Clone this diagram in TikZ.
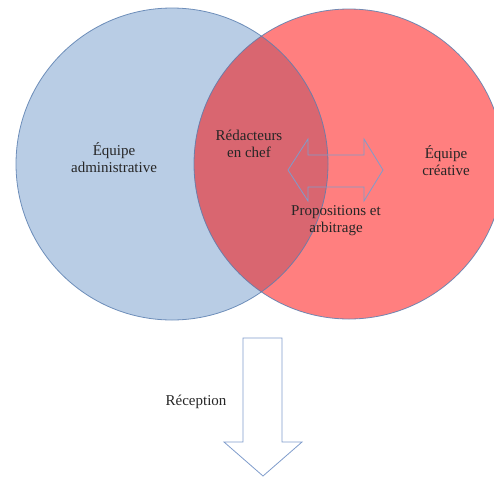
\documentclass[tikz,border=0pt]{standalone}
\usepackage{fontspec}
\setmainfont{Liberation Serif}
\usepackage{tikz}
\definecolor{equipeblue}{HTML}{B9CDE5}
\definecolor{equipered}{HTML}{FF7F7F}
\definecolor{overlapred}{HTML}{D96670}
\definecolor{rimblue}{HTML}{5B7FB0}
\definecolor{arrowblue}{HTML}{7F9CCB}
\def\drawrim{\draw[color=rimblue, draw opacity=0.85, line width=0.8pt]}
\def\drawblock{\draw[color=arrowblue, line width=0.8pt, line join=miter]}
\def\textnode{\node[align=center, text=black!85, font=\fontsize{15}{17}\selectfont]}

\begin{document}
\begin{tikzpicture}[x=1pt,y=-1pt,inner sep=0pt]
\useasboundingbox (0,0) rectangle (494,477);
% the two teams
\coordinate (admincenter) at (172,164);
\coordinate (creativecenter) at (349,164);
\fill[equipeblue] (admincenter) circle (156pt);
\fill[equipered] (creativecenter) circle (155pt);
\begin{scope}
\clip (admincenter) circle (156pt);
\fill[overlapred] (creativecenter) circle (155pt);
\end{scope}
\drawrim (admincenter) circle (156pt);
\drawrim (creativecenter) circle (155pt);
% block arrows
\drawblock (288,170) -- (308,139) -- (308,155) -- (364,155) -- (364,139) -- (383,170)
  -- (364,201) -- (364,187) -- (308,187) -- (308,201) -- cycle;
\drawblock (243,338) -- (282,338) -- (282,442) -- (302,442) -- (263,476)
  -- (224,442) -- (243,442) -- cycle;
% labels
\textnode (admin) at (114,158) {Équipe\\administrative};
\textnode (chefs) at (249,144) {Rédacteurs\\en chef};
\textnode (creative) at (446,161) {Équipe\\créative};
\textnode (arbitrage) at (336,221) {Propositions et\\arbitrage};
\textnode (reception) at (196,402) {Réception};
\end{tikzpicture}
\end{document}
